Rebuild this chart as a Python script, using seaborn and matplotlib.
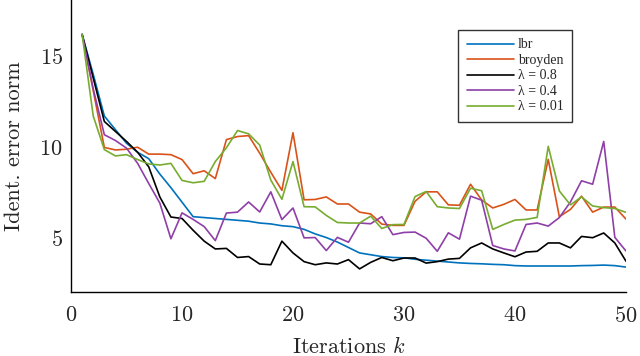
import numpy as np
import pandas as pd
import matplotlib
matplotlib.use("Agg")
import matplotlib.pyplot as plt
import seaborn as sns

iterations = list(range(1, 51))

lbr = [16.2, 14.0, 11.7, 10.95, 10.2, 9.7, 9.35, 8.5, 7.75, 6.95,
       6.15, 6.1, 6.05, 6.0, 5.95, 5.9, 5.8, 5.75, 5.65, 5.6,
       5.45, 5.2, 5.0, 4.75, 4.45, 4.15, 4.05, 3.95, 3.9, 3.88,
       3.8, 3.75, 3.7, 3.65, 3.6, 3.57, 3.55, 3.52, 3.5, 3.45,
       3.43, 3.43, 3.43, 3.43, 3.43, 3.45, 3.46, 3.48, 3.45, 3.37]

broyden = [16.2, 13.1, 9.97, 9.83, 9.87, 9.98, 9.6, 9.6, 9.57, 9.3,
           8.52, 8.68, 8.25, 10.4, 10.57, 10.62, 9.65, 8.6, 7.6, 10.78,
           7.08, 7.1, 7.24, 6.85, 6.85, 6.4, 6.3, 5.74, 5.67, 5.67,
           7.0, 7.52, 7.52, 6.8, 6.78, 7.94, 7.07, 6.63, 6.83, 7.1,
           6.52, 6.52, 9.31, 6.15, 6.55, 7.28, 6.4, 6.68, 6.68, 6.02]

lam_08 = [16.2, 13.8, 11.4, 10.85, 10.3, 9.7, 8.9, 7.24, 6.13, 6.05,
          5.4, 4.8, 4.37, 4.4, 3.9, 3.95, 3.54, 3.5, 4.8, 4.15,
          3.67, 3.5, 3.6, 3.54, 3.78, 3.27, 3.63, 3.9, 3.72, 3.87,
          3.87, 3.59, 3.67, 3.81, 3.85, 4.43, 4.7, 4.37, 4.15, 3.94,
          4.2, 4.24, 4.7, 4.7, 4.43, 5.06, 4.99, 5.25, 4.7, 3.7]

lam_04 = [16.2, 13.2, 10.67, 10.35, 9.93, 9.09, 7.98, 6.9, 4.93, 6.36,
          6.0, 5.6, 4.83, 6.35, 6.4, 6.96, 6.41, 7.52, 5.99, 6.63,
          4.98, 5.0, 4.28, 5.01, 4.74, 5.8, 5.76, 6.15, 5.16, 5.28,
          5.3, 4.96, 4.24, 5.26, 4.91, 7.28, 7.06, 4.56, 4.37, 4.26,
          5.72, 5.8, 5.63, 6.1, 6.96, 8.13, 7.94, 10.3, 5.01, 4.26]

lam_001 = [16.2, 11.7, 9.85, 9.5, 9.57, 9.3, 9.06, 9.0, 9.09, 8.15,
           8.02, 8.1, 9.19, 9.95, 10.9, 10.72, 10.1, 8.17, 7.11, 9.19,
           6.7, 6.69, 6.22, 5.83, 5.8, 5.8, 6.18, 5.5, 5.71, 5.72,
           7.26, 7.54, 6.7, 6.63, 6.6, 7.72, 7.58, 5.45, 5.72, 5.96,
           6.0, 6.11, 10.03, 7.57, 6.8, 7.24, 6.74, 6.65, 6.6, 6.39]

labels = ["lbr", "broyden", "λ = 0.8", "λ = 0.4", "λ = 0.01"]
colors = ["#0072BD", "#D95319", "#000000", "#8E3FA8", "#77AC30"]

df = pd.DataFrame({
    "k": iterations * 5,
    "value": lbr + broyden + lam_08 + lam_04 + lam_001,
    "method": [lab for lab in labels for _ in iterations],
})

sns.set_style("white")
plt.rcParams["font.family"] = ["cmr10"]
plt.rcParams["mathtext.fontset"] = "cm"
plt.rcParams["axes.formatter.use_mathtext"] = True

fig = plt.figure(figsize=(6.4, 3.56), dpi=100)
ax = fig.add_axes([0.111, 0.18, 0.867, 0.82])

sns.lineplot(data=df, x="k", y="value", hue="method", hue_order=labels,
             palette=colors, linewidth=1.2, ax=ax, legend=True)

ax.set_xlim(0, 50)
ax.set_ylim(2, 18.1)
ax.set_xticks([0, 10, 20, 30, 40, 50])
ax.set_yticks([5, 10, 15])
ax.tick_params(direction="in", length=10, width=1, color="#bbbbbb",
               labelsize=16)
ax.tick_params(axis="x", pad=10)
ax.tick_params(axis="y", pad=6)
for side in ["top", "right"]:
    ax.spines[side].set_visible(False)
for side in ["left", "bottom"]:
    ax.spines[side].set_color("black")
    ax.spines[side].set_linewidth(1.0)

ax.set_xlabel("Iterations $k$", fontsize=16, labelpad=7)
ax.set_ylabel("Ident. error norm", fontsize=16, labelpad=11)

handles, _ = ax.get_legend_handles_labels()
leg = ax.legend(handles, labels, loc="upper right",
                bbox_to_anchor=(0.903, 0.897), borderaxespad=0,
                prop={"family": "Liberation Serif", "size": 10},
                handlelength=3.4, handletextpad=0.3, labelspacing=0.18,
                fancybox=False, framealpha=1, edgecolor="#333333",
                borderpad=0.6)
leg.get_frame().set_linewidth(1.0)

fig.savefig("out.png", dpi=100)
